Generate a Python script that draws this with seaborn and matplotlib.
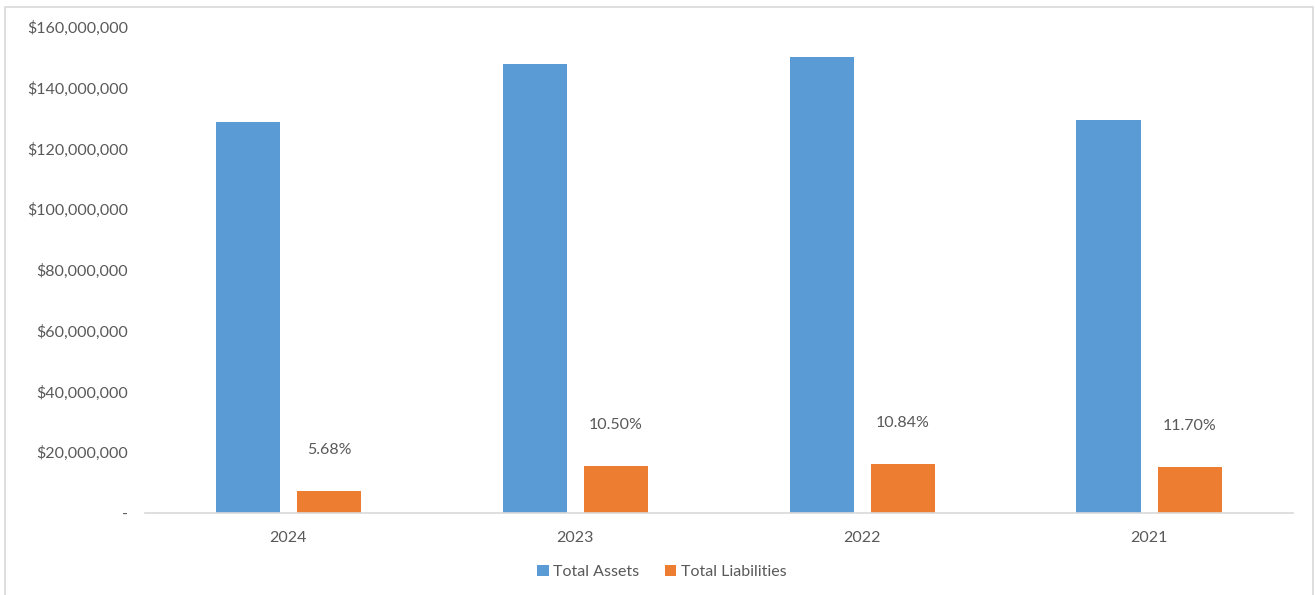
import matplotlib
matplotlib.use("Agg")
import matplotlib.pyplot as plt
import seaborn as sns
import pandas as pd
from matplotlib.patches import Rectangle
from matplotlib.ticker import FuncFormatter

years = ["2024", "2023", "2022", "2021"]
total_assets = [128_800_000, 147_800_000, 150_100_000, 129_400_000]
total_liabilities = [7_320_000, 15_520_000, 16_270_000, 15_140_000]
ratio_labels = ["5.68%", "10.50%", "10.84%", "11.70%"]
series_names = ["Total Assets", "Total Liabilities"]
colors = ["#5B9BD5", "#ED7D31"]

df = pd.DataFrame({
    "Year": years * 2,
    "Value": total_assets + total_liabilities,
    "Series": [series_names[0]] * len(years) + [series_names[1]] * len(years),
})

sns.set_theme(style="white")
plt.rcParams["font.family"] = ["Lato", "DejaVu Sans"]
text_color = "#595959"

fig = plt.figure(figsize=(13.15, 5.95), dpi=100)
ax = fig.add_axes([145 / 1315, 1 - 513 / 595, (1292.5 - 145) / 1315, (513 - 27) / 595])

sns.barplot(data=df, x="Year", y="Value", hue="Series", order=years,
            hue_order=series_names, palette=colors, width=0.566, gap=0.21,
            saturation=1, linewidth=0, ax=ax, legend=True)

ax.set_ylim(0, 160_000_000)
ax.set_xlim(-0.5, len(years) - 0.5)
ax.set_yticks(range(0, 160_000_001, 20_000_000))
ax.yaxis.set_major_formatter(FuncFormatter(lambda v, p: "-" if v == 0 else f"${v:,.0f}"))
ax.set_xlabel("")
ax.set_ylabel("")
for s in ["top", "right", "left"]:
    ax.spines[s].set_visible(False)
ax.spines["bottom"].set_color("#D9D9D9")
ax.spines["bottom"].set_linewidth(1.2)
ax.tick_params(axis="y", length=0, pad=12, labelsize=11.5, labelcolor=text_color)
ax.tick_params(axis="x", length=0, pad=13, labelsize=11.5, labelcolor=text_color)
ax.grid(False)

# ratio labels above liabilities bars
liab_container = ax.containers[1]
for bar, lab in zip(liab_container, ratio_labels):
    ax.annotate(lab, (bar.get_x() + bar.get_width() / 2, bar.get_height()),
                xytext=(0, 29.5), textcoords="offset points",
                ha="center", va="center", fontsize=11.5, color=text_color)

leg = ax.legend(loc="center", ncol=2,
                frameon=False, fontsize=11.5, handlelength=0.7, handleheight=0.7,
                handletextpad=0.3, columnspacing=1.6)
leg.set_bbox_to_anchor((662 / 1315, 1 - 572 / 595), transform=fig.transFigure)
for t in leg.get_texts():
    t.set_color(text_color)

fig.patches.append(Rectangle((5 / 1315, -0.01), (1313 - 5) / 1315, 1 - 7 / 595 + 0.01,
                             transform=fig.transFigure, fill=False,
                             edgecolor="#D9D9D9", linewidth=1.2))

fig.savefig("out.png", dpi=100)
